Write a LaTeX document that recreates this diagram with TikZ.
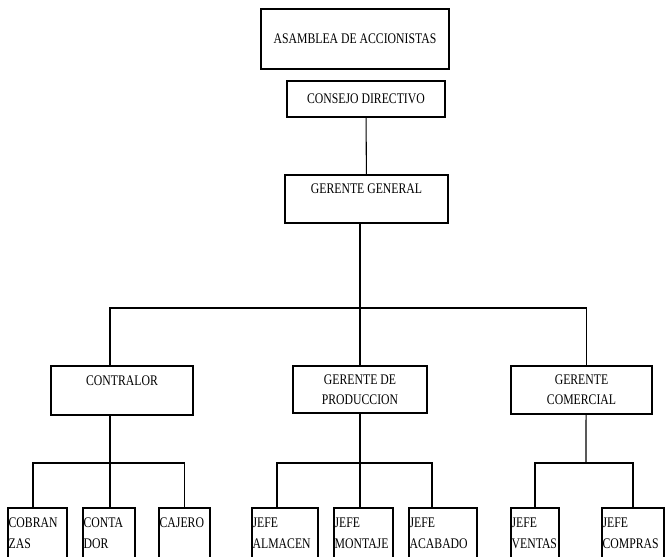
\documentclass[tikz,border=0pt]{standalone}
\usepackage{fontspec}
\setmainfont[FakeStretch=0.8]{Liberation Serif}
\usepackage{tikz}

\begin{document}
\begin{tikzpicture}[x=0.75pt,y=-0.75pt,line width=0.8pt]
  \tikzstyle{cargo}=[draw,rectangle,inner sep=1pt,align=center,font=\fontsize{11}{15}\selectfont]
  \tikzstyle{puesto}=[draw,rectangle,inner xsep=0.5pt,inner ysep=0pt,align=left,minimum height=37.5pt,font=\fontsize{11}{15.75}\selectfont]
  \useasboundingbox (0,0) rectangle (665,557);
  \clip (0,0) rectangle (665,557);

  \node[cargo,minimum width=141pt,minimum height=45pt] (asamblea) at (355,39) {\raisebox{-3pt}{ASAMBLEA DE ACCIONISTAS}};
  \node[cargo,minimum width=118.5pt,minimum height=27pt] (consejo) at (366,99) {CONSEJO DIRECTIVO};
  \node[cargo,minimum width=122.25pt,minimum height=36pt] (general) at (366.5,199) {GERENTE GENERAL\\\mbox{}};

  \node[cargo,minimum width=106.5pt,minimum height=36.75pt] (contralor) at (122,390.5) {CONTRALOR\\\mbox{}};
  \node[cargo,minimum width=100.5pt,minimum height=35.25pt] (produccion) at (360,389.5) {GERENTE DE\\PRODUCCION};
  \node[cargo,minimum width=105.75pt,minimum height=36pt] (comercial) at (581.5,390) {GERENTE\\COMERCIAL};

  \node[puesto,text width=43.25pt] (cobranzas) at (37.5,533) {COBRAN\\ZAS};
  \node[puesto,text width=38pt] (contador) at (109,533) {CONTA\\DOR};
  \node[puesto,text width=37.25pt] (cajero) at (184.5,533) {CAJERO\\\mbox{}};

  \node[puesto,text width=48.5pt] (almacen) at (285,533) {JEFE\\ALMACEN};
  \node[puesto,text width=43.25pt] (montaje) at (363.5,533) {JEFE\\MONTAJE};
  \node[puesto,text width=50pt] (acabado) at (443,533) {JEFE\\ACABADO};

  \node[puesto,text width=35pt] (ventas) at (535,533) {JEFE\\VENTAS};
  \node[puesto,text width=45.5pt] (compras) at (633,533) {JEFE\\COMPRAS};

  \coordinate (bus) at (360,308);
  \coordinate (cbus) at (110,463);
  \coordinate (pbus) at (360,463);
  \coordinate (mbus) at (586,463);

  \draw (consejo) -- (general);
  \draw (general.south -| produccion) -- (produccion.north);
  \draw ([xshift=-9pt]contralor.north) |- (bus) -| ([xshift=4pt]comercial.north);

  \draw ([xshift=-9pt]contralor.south) -- (cbus);
  \draw ([xshift=-3.4pt]cobranzas.north) |- (cbus) -| (cajero.north);
  \draw (cbus) -- (cbus |- contador.north);

  \draw (produccion) -- (pbus);
  \draw ([xshift=-6pt]almacen.north) |- (pbus) -| ([xshift=-8.25pt]acabado.north);
  \draw (pbus) -- (pbus |- montaje.north);

  \draw ([xshift=3.4pt]comercial.south) -- (mbus);
  \draw (ventas.north) |- (mbus) -| (compras.north);
\end{tikzpicture}
\end{document}
